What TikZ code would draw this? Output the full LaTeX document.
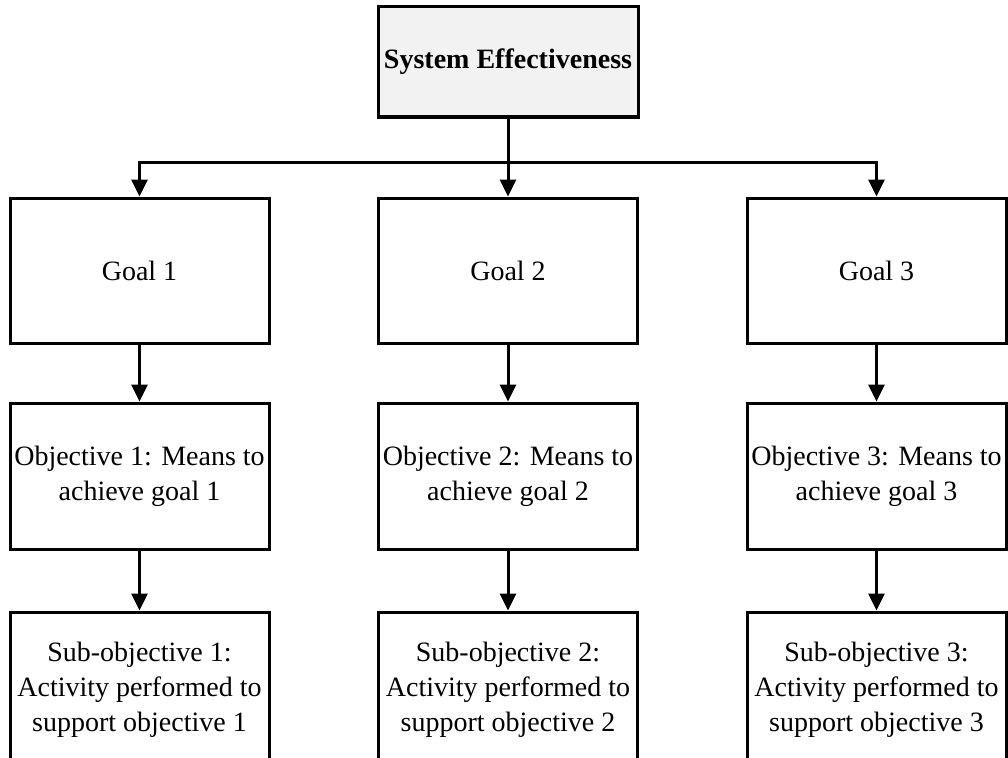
\documentclass[tikz,border=0pt]{standalone}
\usepackage{fontspec}
\setmainfont{Liberation Serif}
\usetikzlibrary{arrows.meta}
\definecolor{headfill}{HTML}{F2F2F2}
\begin{document}
\begin{tikzpicture}[x=1pt,y=-1pt,
  every node/.style={font=\fontsize{28}{35}\selectfont},
  box/.style={draw=black, line width=3pt, minimum width=259pt, inner sep=0pt, align=center},
  headbox/.style={box, fill=headfill, minimum width=260pt, minimum height=110pt, font=\fontsize{28}{35}\selectfont\bfseries},
  goalbox/.style={box, minimum height=145pt},
  objbox/.style={box, minimum height=146pt},
  subbox/.style={box, minimum height=156pt},
  link/.style={line width=3pt, -{Triangle[length=17pt,width=16pt]}},
  plain/.style={line width=3pt}
]
\useasboundingbox (0,0) rectangle (1008,757);
\clip (0,0) rectangle (1008,757);

% top node
\node[headbox] (top) at (508,62) {System Effectiveness};

% three columns: goal, objective, sub-objective
\node[goalbox] (g1) at (139.5,270.5) {Goal 1};
\node[goalbox] (g2) at (508,270.5) {Goal 2};
\node[goalbox] (g3) at (876.5,270.5) {Goal 3};

\node[objbox] (o1) at (139.5,476) {Objective 1: Means to\\achieve goal 1};
\node[objbox] (o2) at (508,476) {Objective 2: Means to\\achieve goal 2};
\node[objbox] (o3) at (876.5,476) {Objective 3: Means to\\achieve goal 3};

\node[subbox] (s1) at (139.5,690) {Sub-objective 1:\\Activity performed to\\support objective 1};
\node[subbox] (s2) at (508,690) {Sub-objective 2:\\Activity performed to\\support objective 2};
\node[subbox] (s3) at (876.5,690) {Sub-objective 3:\\Activity performed to\\support objective 3};

% distribution bus under the top node
\coordinate (bus) at (508,162);
\draw[plain] (top.south) -- (bus);
\draw[link] (bus) -- (g2.north);
\draw[link] (bus) -| (g1.north);
\draw[link] (bus) -| (g3.north);

% vertical links in each column
\foreach \i in {1,2,3}{
  \draw[link] (g\i.south) -- (o\i.north);
  \draw[link] (o\i.south) -- (s\i.north);
}
\end{tikzpicture}
\end{document}
